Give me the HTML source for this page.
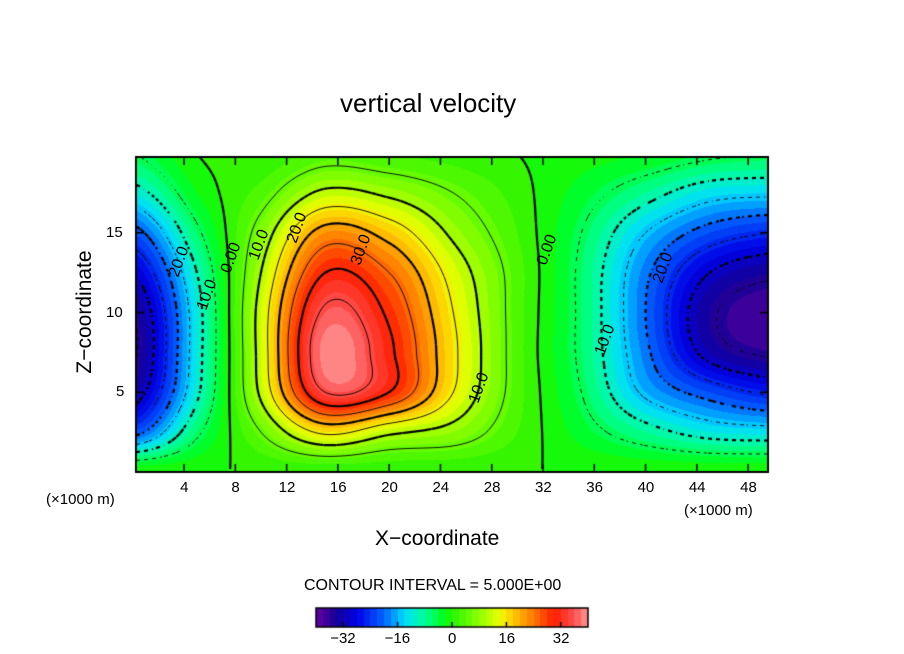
<!DOCTYPE html>
<html><head><meta charset="utf-8">
<style>
body{margin:0;background:#fff;}
#wrap{position:relative;width:904px;height:654px;overflow:hidden;font-family:"Liberation Sans",sans-serif;}
.t{position:absolute;color:#000;white-space:nowrap;}
canvas{position:absolute;left:0;top:0;}
</style></head>
<body>
<div id="wrap">
<canvas id="c" width="904" height="654"></canvas>
<div class="t" style="left:340px;top:88px;font-size:26px;">vertical velocity</div>
<div class="t" style="left:375px;top:527px;font-size:21px;">X−coordinate</div>
<div class="t" style="left:20px;top:300px;font-size:21px;transform:rotate(-90deg);transform-origin:center;width:130px;text-align:center;">Z−coordinate</div>
<div class="t" style="left:46px;top:491px;font-size:15px;">(×1000 m)</div>
<div class="t" style="left:684px;top:502px;font-size:15px;">(×1000 m)</div>
<div class="t" style="left:304px;top:577px;font-size:16px;">CONTOUR INTERVAL = 5.000E+00</div>
<div id="labels"></div>
</div>
<script>
const xTicks=[4,8,12,16,20,24,28,32,36,40,44,48];
const zTicks=[5,10,15];
const cbTicks=[-32,-16,0,16,32];
const gridX=[0,5,10,15,20,25,30,35,40,45,50];
const gridZ=[0,2.5,5,7.5,10,12.5,15,17.5,20];
// values per column (x), from bottom z=0 to top z=20
const col0=[0,-22,-33,-36,-35,-30,-22,-12,-5];
const col5=[0,-6,-11,-12,-12,-10,-6,-2,0];
const col10=[0,5,11,12,12,10,7,3,0];
const col15=[0,16,35,39,36,30,22,11,3];
const col20=[0,11,30,31,29,25,18,9,2];
const col25=[0,8,15,16,15,13,9,5,1];
const col30=[0,2,3,3,3,3,2,1,0];
const col35=[0,-3,-5,-6,-6,-6,-5,-3,-1];
const col40=[0,-8,-16,-19,-20,-19,-15,-8,-2];
const col45=[0,-12,-22,-32,-34,-30,-22,-13,-4];
const col50=[0,-13,-26,-36,-38,-34,-25,-14,-5];
const cols=[col0,col5,col10,col15,col20,col25,col30,col35,col40,col45,col50];

const PL=136,PR=768,PT=157,PB=472;
const X0=0.25,X1=49.55,Z0=0,Z1=19.75;
const sx=x=>PL+(x-X0)/(X1-X0)*(PR-PL);
const sz=z=>PB-(z-Z0)/(Z1-Z0)*(PB-PT);
function cr(p0,p1,p2,p3,t){return 0.5*(2*p1+(-p0+p2)*t+(2*p0-5*p1+4*p2-p3)*t*t+(-p0+3*p1-3*p2+p3)*t*t*t);}
function g(i,j){i=Math.max(0,Math.min(cols.length-1,i));j=Math.max(0,Math.min(gridZ.length-1,j));return cols[i][j];}
function field(x,z){
  let fx=(x-gridX[0])/(gridX[1]-gridX[0]),fz=(z-gridZ[0])/(gridZ[1]-gridZ[0]);
  let i=Math.floor(fx),j=Math.floor(fz);i=Math.min(i,cols.length-2);j=Math.min(j,gridZ.length-2);
  const tx=fx-i,tz=fz-j,r=[];
  for(let a=-1;a<3;a++)r.push(cr(g(i+a,j-1),g(i+a,j),g(i+a,j+1),g(i+a,j+2),tz));
  return cr(r[0],r[1],r[2],r[3],tx);
}
const stops=[[-40,100,0,160],[-34,20,0,150],[-28,0,0,230],[-20,0,100,255],[-14,0,220,255],[-8,0,255,150],[-2,0,255,20],[0,40,245,0],[8,140,255,0],[14,240,255,0],[18,255,200,0],[24,255,120,0],[30,255,30,0],[36,255,80,80],[40,255,150,150]];
function col(v){
  if(v>40)return[255,255,255];
  if(v<=stops[0][0])return stops[0].slice(1);
  for(let k=1;k<stops.length;k++)if(v<=stops[k][0]){const a=stops[k-1],b=stops[k],t=(v-a[0])/(b[0]-a[0]);return[0,1,2].map(c=>Math.round(a[c+1]+(b[c+1]-a[c+1])*t));}
  return stops[stops.length-1].slice(1);
}
const cv=document.getElementById('c'),ctx=cv.getContext('2d');
const img=ctx.createImageData(PR-PL,PB-PT);
for(let py=0;py<PB-PT;py++)for(let px=0;px<PR-PL;px++){
  const x=X0+(px+0.5)/(PR-PL)*(X1-X0),z=Z1-(py+0.5)/(PB-PT)*(Z1-Z0);
  let v=field(x,z);v=Math.floor(v/2)*2+1;const c=col(v),o=(py*(PR-PL)+px)*4;
  img.data[o]=c[0];img.data[o+1]=c[1];img.data[o+2]=c[2];img.data[o+3]=255;
}
ctx.putImageData(img,PL,PT);
// contours
const N=4,nx=Math.ceil((PR-PL)/N),nz=Math.ceil((PB-PT)/N),F=[];
for(let j=0;j<=nz;j++){F.push([]);for(let i=0;i<=nx;i++){const px=Math.min(PL+i*N,PR),py=Math.min(PT+j*N,PB);F[j].push(field(X0+(px-PL)/(PR-PL)*(X1-X0),Z1-(py-PT)/(PB-PT)*(Z1-Z0)));}}
ctx.strokeStyle='#000';
for(let L=-35;L<=35;L+=5){
  ctx.lineWidth=(L%10===0)?2.2:0.9;
  for(let j=0;j<nz;j++)for(let i=0;i<nx;i++){
    const p=[[i,j],[i+1,j],[i+1,j+1],[i,j+1]],pts=[];
    for(let e=0;e<4;e++){const a=p[e],b=p[(e+1)%4],va=F[a[1]][a[0]],vb=F[b[1]][b[0]];
      if((va-L)*(vb-L)<0){const t=(L-va)/(vb-va);pts.push([PL+(a[0]+(b[0]-a[0])*t)*N,PT+(a[1]+(b[1]-a[1])*t)*N]);}}
    if(pts.length>=2){if(L<0&&((i+j)%2===0))continue;ctx.beginPath();ctx.moveTo(pts[0][0],pts[0][1]);ctx.lineTo(pts[1][0],pts[1][1]);
      if(pts.length===4){ctx.moveTo(pts[2][0],pts[2][1]);ctx.lineTo(pts[3][0],pts[3][1]);}ctx.stroke();}
  }
}
// frame and ticks
ctx.lineWidth=2;ctx.strokeRect(PL,PT,PR-PL,PB-PT);
ctx.lineWidth=1.5;
const lab=document.getElementById('labels');
function addLabel(txt,x,y,name){const d=document.createElement('div');d.className='t';d.style.left=x+'px';d.style.top=y+'px';d.style.fontSize='15px';d.textContent=txt;


lab.appendChild(d);return d;}
for(const t of xTicks){const x=sx(t);ctx.beginPath();ctx.moveTo(x,PB);ctx.lineTo(x,PB-8);ctx.moveTo(x,PT);ctx.lineTo(x,PT+8);ctx.stroke();
 addLabel(String(t),x-(t<10?4:8),479,'x-tick-label');}
for(const t of zTicks){const y=sz(t);ctx.beginPath();ctx.moveTo(PL,y);ctx.lineTo(PL+8,y);ctx.moveTo(PR,y);ctx.lineTo(PR-8,y);ctx.stroke();
 addLabel(String(t),t<10?116:106,y-9,'z-tick-label');}
// contour labels
[["0.00",232,258],["10.0",260,245],["20.0",298,228],["30.0",362,250],["10.0",480,388],["20.0",180,262],["10.0",208,295],["0.00",548,250],["10.0",606,340],["20.0",664,268]].forEach(a=>{
 const d=addLabel(a[0],a[1]-16,a[2]-9,'contour-label');d.style.fontSize='16px';d.style.transform='rotate(-70deg)';});
// colorbar
const CB0=316,CB1=588,CBT=608,CBB=627;
for(let x=CB0;x<CB1;x++){const v=-40+(x-CB0+0.5)/(CB1-CB0)*80;const c=col(Math.floor(v/2)*2+1);ctx.fillStyle=`rgb(${c})`;ctx.fillRect(x,CBT,1,CBB-CBT);}
ctx.lineWidth=1.5;ctx.strokeRect(CB0,CBT,CB1-CB0,CBB-CBT);
for(const t of cbTicks){const x=CB0+(t+40)/80*(CB1-CB0);ctx.beginPath();ctx.moveTo(x,CBB);ctx.lineTo(x,CBB-5);ctx.stroke();
 addLabel(String(t).replace('-','−'),x-(t<0?13:(t===0?4:8)),630,'colorbar-tick-label');}
</script>
</body></html>
